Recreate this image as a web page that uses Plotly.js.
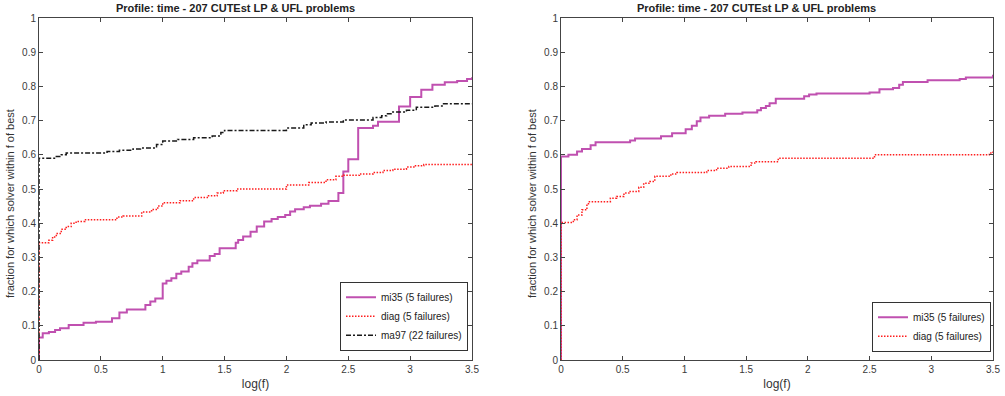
<!DOCTYPE html>
<html>
<head>
<meta charset="utf-8">
<script src="https://cdn.plot.ly/plotly-3.0.1.min.js"></script>
<style>html,body{margin:0;padding:0;background:#fff;}#chart{width:1005px;height:396px;}</style>
</head>
<body>
<div id="chart"></div>
<script>
// ---- Data ----
const titleText = "Profile: time - 207 CUTEst LP & UFL problems";
const xTitle = "log(f)";
const yTitle = "fraction for which solver within f of best";
const xTicks = [0, 0.5, 1, 1.5, 2, 2.5, 3, 3.5];
const yTicks = [0, 0.1, 0.2, 0.3, 0.4, 0.5, 0.6, 0.7, 0.8, 0.9, 1];

// Left panel
const leftMi35X = [0,0,0.03,0.08,0.13,0.17,0.24,0.36,0.46,0.59,0.65,0.71,0.86,0.9,0.94,1.0,1.03,1.07,1.11,1.15,1.21,1.24,1.28,1.38,1.42,1.46,1.59,1.61,1.65,1.71,1.76,1.82,1.88,1.93,1.99,2.03,2.07,2.14,2.19,2.28,2.34,2.42,2.46,2.5,2.58,2.7,2.74,2.91,3.0,3.09,3.18,3.28,3.38,3.46,3.5];
const leftMi35Y = [0,0.066,0.078,0.082,0.088,0.093,0.102,0.109,0.112,0.122,0.139,0.148,0.161,0.171,0.18,0.224,0.232,0.239,0.252,0.259,0.273,0.283,0.291,0.304,0.31,0.327,0.343,0.351,0.361,0.375,0.39,0.405,0.412,0.418,0.424,0.434,0.441,0.447,0.451,0.457,0.465,0.488,0.551,0.587,0.678,0.685,0.697,0.741,0.769,0.79,0.805,0.812,0.816,0.822,0.827];

const leftDiagX = [0,0,0.08,0.11,0.14,0.18,0.22,0.26,0.3,0.37,0.63,0.68,0.83,0.91,0.96,1.0,1.14,1.25,1.37,1.44,1.49,1.6,2.0,2.18,2.32,2.4,2.46,2.59,2.7,2.78,2.86,2.97,3.03,3.11,3.5];
const leftDiagY = [0,0.343,0.35,0.36,0.37,0.382,0.39,0.4,0.405,0.41,0.418,0.421,0.433,0.44,0.45,0.46,0.466,0.475,0.48,0.488,0.495,0.5,0.512,0.519,0.527,0.537,0.54,0.544,0.548,0.554,0.558,0.564,0.568,0.572,0.572];

const leftMa97X = [0,0,0.14,0.18,0.22,0.55,0.65,0.76,0.82,0.95,1.0,1.12,1.25,1.4,1.47,1.5,2.0,2.14,2.2,2.32,2.46,2.7,2.77,2.81,2.86,2.97,3.05,3.2,3.27,3.5];
const leftMa97Y = [0,0.59,0.595,0.6,0.605,0.61,0.613,0.617,0.62,0.63,0.64,0.645,0.65,0.655,0.665,0.671,0.678,0.688,0.693,0.696,0.702,0.709,0.714,0.72,0.725,0.73,0.739,0.743,0.749,0.749];

// Right panel
const rightMi35X = [0,0,0.06,0.13,0.17,0.24,0.28,0.56,0.6,0.81,0.9,1.01,1.06,1.1,1.13,1.2,1.33,1.47,1.59,1.62,1.66,1.69,1.74,1.97,2.01,2.07,2.5,2.58,2.69,2.74,2.77,2.97,3.23,3.28,3.48,3.5];
const rightMi35Y = [0,0.595,0.6,0.61,0.617,0.628,0.637,0.642,0.648,0.654,0.663,0.675,0.685,0.698,0.709,0.714,0.72,0.724,0.73,0.737,0.743,0.751,0.764,0.771,0.776,0.779,0.782,0.792,0.795,0.805,0.813,0.818,0.822,0.826,0.826,0.834];

const rightDiagX = [0,0,0.1,0.13,0.17,0.21,0.23,0.4,0.45,0.51,0.55,0.63,0.67,0.72,0.76,0.89,0.94,1.18,1.26,1.36,1.54,1.58,1.76,2.54,3.47,3.5];
const rightDiagY = [0,0.402,0.41,0.424,0.439,0.457,0.463,0.473,0.478,0.488,0.493,0.505,0.517,0.522,0.537,0.544,0.548,0.554,0.561,0.566,0.576,0.58,0.59,0.6,0.605,0.61];

const seriesNames = ["mi35 (5 failures)", "diag (5 failures)", "ma97 (22 failures)"];

// ---- Styles ----
const cMi35 = "rgb(192,80,176)";
const cDiag = "rgb(255,30,30)";
const cMa97 = "rgb(25,25,25)";
const FONT = "Liberation Sans, Arial, sans-serif";

const traces = [
  {x: leftMi35X, y: leftMi35Y, name: seriesNames[0], xaxis: "x", yaxis: "y", legend: "legend",
   mode: "lines", line: {shape: "hv", color: cMi35, width: 2}},
  {x: leftDiagX, y: leftDiagY, name: seriesNames[1], xaxis: "x", yaxis: "y", legend: "legend",
   mode: "lines", line: {shape: "hv", color: cDiag, width: 1.5, dash: "1.5px,1.5px"}},
  {x: leftMa97X, y: leftMa97Y, name: seriesNames[2], xaxis: "x", yaxis: "y", legend: "legend",
   mode: "lines", line: {shape: "hv", color: cMa97, width: 1.5, dash: "5px,2px,2px,2px"}},
  {x: rightMi35X, y: rightMi35Y, name: seriesNames[0], xaxis: "x2", yaxis: "y2", legend: "legend2",
   mode: "lines", line: {shape: "hv", color: cMi35, width: 2}},
  {x: rightDiagX, y: rightDiagY, name: seriesNames[1], xaxis: "x2", yaxis: "y2", legend: "legend2",
   mode: "lines", line: {shape: "hv", color: cDiag, width: 1.5, dash: "1.5px,1.5px"}}
];

const axisFont = {family: FONT, size: 10, color: "#3a3a3a"};
function xax(domain, anchor) {
  return {domain: domain, anchor: anchor, range: [0, 3.5], tickvals: xTicks, ticktext: xTicks.map(String),
    ticks: "inside", ticklen: 4, tickcolor: "#444", showline: true, linecolor: "#444", linewidth: 1,
    mirror: "ticks", showgrid: false, zeroline: false, tickfont: axisFont,
    title: {text: xTitle, font: {family: FONT, size: 12, color: "#333"}, standoff: 5},
    automargin: false, fixedrange: true};
}
function yax(anchor) {
  return {domain: [0, 1], anchor: anchor, range: [0, 1], tickvals: yTicks, ticktext: yTicks.map(String),
    ticks: "inside", ticklen: 4, tickcolor: "#444", showline: true, linecolor: "#444", linewidth: 1,
    mirror: "ticks", showgrid: false, zeroline: false, tickfont: axisFont,
    automargin: false, fixedrange: true};
}

const W = 1005;
const legendStyle = {bgcolor: "#fff", bordercolor: "#333", borderwidth: 1,
  font: {family: FONT, size: 10, color: "#222"},
  xanchor: "right", yanchor: "bottom", tracegroupgap: 0, itemwidth: 30};

const titleFont = {family: FONT, size: 11, color: "#222"};
const yTitleFont = {family: FONT, size: 11, color: "#333"};

const layout = {
  width: 1005, height: 396,
  margin: {l: 0, r: 0, t: 18, b: 36},
  paper_bgcolor: "#fff", plot_bgcolor: "#fff",
  showlegend: true,
  xaxis: xax([39 / W, 472 / W], "y"),
  yaxis: yax("x"),
  xaxis2: xax([561 / W, 993 / W], "y2"),
  yaxis2: yax("x2"),
  legend: Object.assign({x: 468 / W, y: 0.027}, legendStyle),
  legend2: Object.assign({x: 991 / W, y: 0.024}, legendStyle),
  annotations: [
    {text: "<b>" + titleText + "</b>", xref: "paper", yref: "paper", x: 235 / W, y: 1, yshift: 10,
     xanchor: "center", yanchor: "middle", showarrow: false, font: titleFont},
    {text: "<b>" + titleText + "</b>", xref: "paper", yref: "paper", x: 756 / W, y: 1, yshift: 10,
     xanchor: "center", yanchor: "middle", showarrow: false, font: titleFont},
    {text: yTitle, xref: "paper", yref: "paper", x: 10 / W, y: 0.456, textangle: -90,
     xanchor: "center", yanchor: "middle", showarrow: false, font: yTitleFont},
    {text: yTitle, xref: "paper", yref: "paper", x: 532 / W, y: 0.456, textangle: -90,
     xanchor: "center", yanchor: "middle", showarrow: false, font: yTitleFont}
  ]
};

Plotly.newPlot("chart", traces, layout, {staticPlot: true, displayModeBar: false});
</script>
</body>
</html>
